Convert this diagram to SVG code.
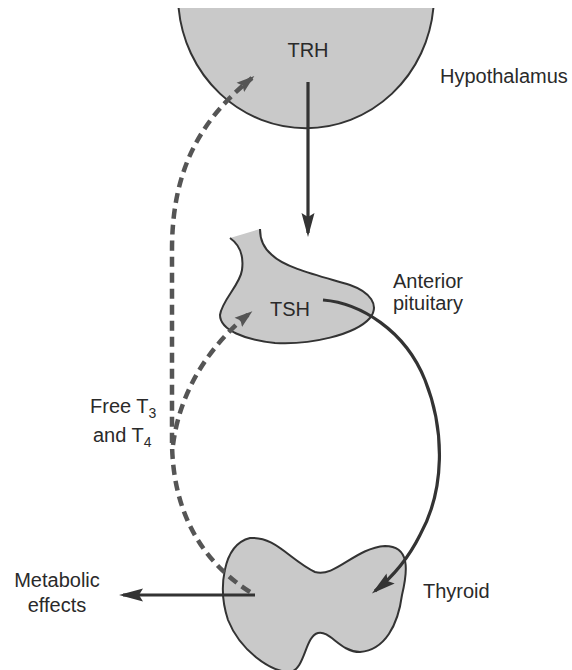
<svg xmlns="http://www.w3.org/2000/svg" width="572" height="670" viewBox="0 0 572 670">
<style>
.organ{fill:#c9c9c9;stroke:none}
.outline{fill:none;stroke:#333;stroke-width:2}
.lbl{font-family:"Liberation Sans",Arial,sans-serif;font-size:20px;fill:#2a2a2a}
.solid{fill:none;stroke:#333;stroke-width:3.2}
.dash{fill:none;stroke:#555;stroke-width:4.5;stroke-dasharray:10 6}
</style>
<defs>
<marker id="ahSolid" markerUnits="userSpaceOnUse" markerWidth="26" markerHeight="16" viewBox="0 0 26 16" refX="20" refY="8" orient="auto">
<path d="M0,1.5 L24,8 L0,14.5 L4,8 Z" fill="#333"/>
</marker>
<marker id="ahDash" markerUnits="userSpaceOnUse" markerWidth="20" markerHeight="14" viewBox="0 0 20 14" refX="15" refY="7" orient="auto">
<path d="M0,1 L18,7 L0,13 L3,7 Z" fill="#555"/>
</marker>
</defs>
<rect width="572" height="670" fill="#fff"/>

<g id="hypothalamus">
<path class="organ" d="M178.6,8 A128,133 0 0 0 433.4,8 Z"/>
<path class="outline" d="M178.6,8 A128,133 0 0 0 433.4,8"/>
<text class="lbl" x="308" y="57" text-anchor="middle">TRH</text>
<text class="lbl" x="440" y="83">Hypothalamus</text>
</g>

<g id="pituitary">
<path class="organ" d="M230,238 C240,245 244,255 242,270 C240,285 222,300 220,315 C220,330 245,340 275,343 C310,345 355,335 370,318 C380,305 370,292 350,285 C320,276 285,268 272,255 C262,247 260,238 260,229 Z"/>
<path class="outline" d="M230,238 C240,245 244,255 242,270 C240,285 222,300 220,315 C220,330 245,340 275,343 C310,345 355,335 370,318 C380,305 370,292 350,285 C320,276 285,268 272,255 C262,247 260,238 260,229"/>
<text class="lbl" x="290" y="316" text-anchor="middle">TSH</text>
<text class="lbl" x="393" y="288">Anterior</text>
<text class="lbl" x="393" y="310">pituitary</text>
</g>

<g id="thyroid">
<path class="organ" d="M250,538 C275,536 290,560 315,572 C335,578 355,548 385,546 C410,546 408,570 402,595 C398,625 385,650 360,652 C340,652 330,630 318,633 C305,636 305,670 290,672 C270,672 240,650 228,620 C218,590 222,545 250,538 Z"/>
<path class="outline" d="M250,538 C275,536 290,560 315,572 C335,578 355,548 385,546 C410,546 408,570 402,595 C398,625 385,650 360,652 C340,652 330,630 318,633 C305,636 305,670 290,672 C270,672 240,650 228,620 C218,590 222,545 250,538 Z"/>
<text class="lbl" x="423" y="598">Thyroid</text>
</g>

<g id="labels">
<text class="lbl" x="90" y="413">Free T<tspan font-size="14" dy="5">3</tspan></text>
<text class="lbl" x="93" y="442">and T<tspan font-size="14" dy="5">4</tspan></text>
<text class="lbl" x="57" y="587" text-anchor="middle">Metabolic</text>
<text class="lbl" x="57" y="612" text-anchor="middle">effects</text>
</g>

<g id="connectors">
<path class="solid" d="M308,82 L308,233" marker-end="url(#ahSolid)"/>
<path class="solid" d="M323,300 C360,303 405,330 425,380 C445,430 445,490 420,535 C410,555 395,575 375,591" marker-end="url(#ahSolid)"/>
<path class="solid" d="M255,595 L123,595" marker-end="url(#ahSolid)"/>
<path class="dash" d="M250,592 C200,560 172,510 172,440 L172,250 C172,170 200,120 252,78" marker-end="url(#ahDash)"/>
<path class="dash" d="M173,445 C180,390 210,345 250,313" marker-end="url(#ahDash)"/>
</g>
</svg>
